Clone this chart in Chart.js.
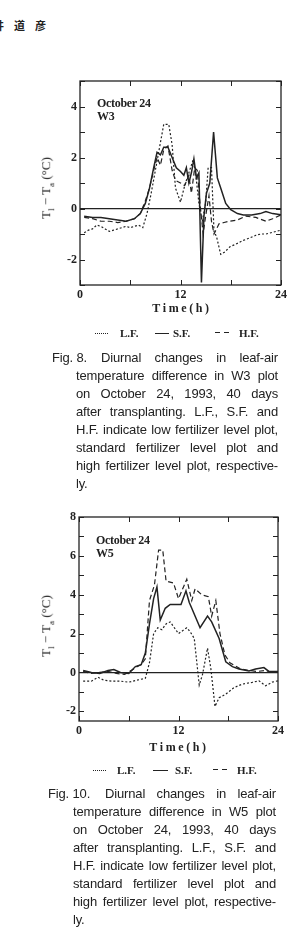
<!DOCTYPE html>
<html>
<head>
<meta charset="utf-8">
<script src="https://cdn.jsdelivr.net/npm/chart.js@4/dist/chart.umd.min.js"></script>
<style>
body{margin:0;background:#fff;width:299px;height:947px;position:relative;overflow:hidden;color:#222}
canvas{position:absolute}
.abs{position:absolute;white-space:nowrap}
.ser{font-family:"Liberation Serif","Times New Roman",serif}
.note{font-size:12px;line-height:13px;letter-spacing:-0.3px;font-weight:600}
.ytitle{font-size:13px;transform:translate(-50%,-50%) rotate(-90deg)}
.ytitle sub{font-size:9px}
.xtitle{font-size:12px;font-weight:bold;letter-spacing:2.6px;transform:translate(-50%,-50%)}
.leg{font-size:11px;font-weight:bold;transform:translateY(-50%)}
.smp{position:absolute;height:0}
.cap{font-family:"Liberation Sans",Arial,sans-serif;font-size:13px;line-height:18px;letter-spacing:-0.15px}
.cap div{position:absolute;text-align:justify;text-align-last:justify;height:18px}
.cap div.last{text-align-last:left}
.cap div.fig{text-align-last:left;white-space:nowrap}
.head{font-family:"Noto Sans CJK JP",sans-serif;font-weight:bold;font-size:11px;letter-spacing:10px;left:-7px;top:17px}
</style>
</head>
<body>
<div class="abs head">井道彦</div>

<canvas id="w3" width="250" height="250" style="left:40px;top:70px"></canvas>
<div class="abs ser note" style="left:97px;top:97px">October 24<br>W3</div>
<div class="abs ser ytitle" style="left:47px;top:188px">T<sub>l</sub> − T<sub>a</sub> (°C)</div>
<div class="abs ser xtitle" style="left:182px;top:308px">Time(h)</div>
<div class="smp" style="left:95px;top:333px;width:13px;border-top:1.4px dotted #222"></div>
<div class="abs ser leg" style="left:120px;top:333px">L.F.</div>
<div class="smp" style="left:155px;top:333px;width:14px;border-top:1.3px solid #222"></div>
<div class="abs ser leg" style="left:173px;top:333px">S.F.</div>
<div class="smp" style="left:215px;top:332px;width:15px;height:1.3px;background:repeating-linear-gradient(90deg,#222 0 5px,transparent 5px 9px)"></div>
<div class="abs ser leg" style="left:239px;top:333px">H.F.</div>

<div class="cap">
<div class="fig" style="left:52px;top:349px">Fig. 8.</div>
<div style="left:101px;top:349px;width:177px">Diurnal changes in leaf-air</div>
<div style="left:76px;top:367px;width:202px">temperature difference in W3 plot</div>
<div style="left:76px;top:385px;width:202px">on October 24, 1993, 40 days</div>
<div style="left:76px;top:403px;width:202px">after transplanting. L.F., S.F. and</div>
<div style="left:76px;top:421px;width:202px">H.F. indicate low fertilizer level plot,</div>
<div style="left:76px;top:439px;width:202px">standard fertilizer level plot and</div>
<div style="left:76px;top:457px;width:202px">high fertilizer level plot, respective-</div>
<div class="last" style="left:76px;top:475px;width:202px">ly.</div>
</div>

<canvas id="w5" width="250" height="250" style="left:39px;top:506px"></canvas>
<div class="abs ser note" style="left:96px;top:534px">October 24<br>W5</div>
<div class="abs ser ytitle" style="left:47px;top:626px">T<sub>l</sub> − T<sub>a</sub> (°C)</div>
<div class="abs ser xtitle" style="left:179px;top:747px">Time(h)</div>
<div class="smp" style="left:93px;top:770px;width:13px;border-top:1.4px dotted #222"></div>
<div class="abs ser leg" style="left:117px;top:770px">L.F.</div>
<div class="smp" style="left:153px;top:770px;width:15px;border-top:1.3px solid #222"></div>
<div class="abs ser leg" style="left:175px;top:770px">S.F.</div>
<div class="smp" style="left:213px;top:769px;width:17px;height:1.3px;background:repeating-linear-gradient(90deg,#222 0 5px,transparent 5px 9px)"></div>
<div class="abs ser leg" style="left:237px;top:770px">H.F.</div>

<div class="cap">
<div class="fig" style="left:48px;top:785px">Fig. 10.</div>
<div style="left:105px;top:785px;width:171px">Diurnal changes in leaf-air</div>
<div style="left:73px;top:803px;width:203px">temperature difference in W5 plot</div>
<div style="left:73px;top:821px;width:203px">on October 24, 1993, 40 days</div>
<div style="left:73px;top:839px;width:203px">after transplanting. L.F., S.F. and</div>
<div style="left:73px;top:857px;width:203px">H.F. indicate low fertilizer level plot,</div>
<div style="left:73px;top:875px;width:203px">standard fertilizer level plot and</div>
<div style="left:73px;top:893px;width:203px">high fertilizer level plot, respective-</div>
<div class="last" style="left:73px;top:911px;width:203px">ly.</div>
</div>

<script>
// axis ticks
const xTicks = [0, 6, 12, 18, 24];
const xLabels = [0, 12, 24];
const yTicksW3 = [-3, -2, -1, 0, 1, 2, 3, 4, 5];
const yLabelsW3 = [-2, 0, 2, 4];
const yTicksW5 = [-2, -1, 0, 1, 2, 3, 4, 5, 6, 7, 8];
const yLabelsW5 = [-2, 0, 2, 4, 6, 8];

// Fig. 8, W3 plot (time in h, Tl - Ta in degC)
const tW3LF = [0.5,1.0,1.5,2.0,2.5,3.0,3.5,4.0,4.5,5.0,5.5,6.0,6.5,7.0,7.5,8.0,8.5,9.0,9.5,10.0,10.6,11.0,11.4,12.0,12.5,13.0,13.5,13.8,14.2,14.6,15.0,15.3,15.7,16.0,16.3,16.8,17.3,17.9,18.6,19.5,20.3,21.0,21.6,22.2,22.8,23.4,24.0];
const w3LF = [-0.95,-0.85,-0.8,-0.65,-0.7,-0.8,-0.9,-0.85,-0.8,-0.75,-0.7,-0.75,-0.7,-0.65,-0.75,-0.2,0.6,1.5,2.4,3.3,3.3,2.5,0.8,0.25,0.9,1.4,1.9,1.4,0.2,-0.5,0.2,1.6,1.6,-0.9,-1.1,-1.8,-1.7,-1.5,-1.4,-1.25,-1.15,-1.05,-1.0,-1.0,-0.95,-0.9,-0.85];
const tW3SF = [0.5,1.5,2.5,3.5,4.5,5.5,6.5,7.2,7.8,8.3,8.8,9.2,9.6,10.0,10.5,11.0,11.5,12.0,12.4,12.7,13.0,13.3,13.6,13.9,14.2,14.5,14.8,15.1,15.5,15.95,16.4,16.8,17.4,18.0,18.8,19.5,20.5,21.5,22.2,23.0,24.0];
const w3SF = [-0.3,-0.35,-0.35,-0.4,-0.45,-0.5,-0.4,-0.2,0.2,0.8,1.6,2.2,2.1,2.4,2.4,2.0,1.6,1.45,1.3,1.6,1.0,1.4,1.95,1.2,1.4,-2.9,-0.3,0.6,1.0,3.0,1.2,0.8,0.2,-0.05,-0.2,-0.25,-0.25,-0.2,-0.12,-0.2,-0.25];
const tW3HF = [0.5,1.5,2.5,3.5,4.5,5.5,6.5,7.2,7.8,8.3,8.8,9.2,9.6,10.0,10.5,11.0,11.4,12.0,12.5,13.0,13.3,13.7,14.0,14.3,14.7,15.0,15.4,15.7,16.0,16.6,17.2,17.8,18.8,19.8,21.0,22.2,23.0,24.0];
const w3HF = [-0.35,-0.4,-0.5,-0.5,-0.55,-0.5,-0.4,-0.2,0.3,0.8,1.5,2.0,1.7,2.3,2.45,1.5,1.1,1.0,0.9,1.3,0.6,1.6,1.5,0.3,-1.0,-0.3,0.5,-0.5,-1.0,-0.6,-0.55,-0.5,-0.45,-0.3,-0.35,-0.5,-0.4,-0.25];

// Fig. 10, W5 plot
const tW5LF = [0.5,1.5,2.3,3.0,4.0,5.0,6.0,7.0,8.0,8.5,9.0,9.5,10.0,10.5,11.0,12.0,13.0,13.4,13.9,14.5,14.9,15.5,15.9,16.4,16.9,17.7,18.7,19.7,20.9,21.7,22.5,23.3,24.0];
const w5LF = [-0.45,-0.45,-0.25,-0.4,-0.45,-0.45,-0.5,-0.4,-0.3,0.5,2.0,2.3,2.2,2.5,2.6,2.0,2.3,2.1,1.75,-0.65,-0.1,1.25,0.2,-1.75,-1.3,-1.12,-0.78,-0.6,-0.51,-0.43,-0.69,-0.5,-0.43];
const tW5SF = [0.5,1.5,2.5,3.5,4.2,5.0,6.0,6.8,7.5,8.0,8.5,9.0,9.4,9.8,10.4,11.0,11.7,12.3,12.9,13.3,13.6,14.1,14.6,15.5,16.0,16.9,17.7,18.5,19.3,20.5,21.3,22.3,22.9,24.0];
const w5SF = [0.1,0.0,-0.05,0.1,0.15,0.0,-0.05,0.3,0.4,1.0,2.5,3.8,4.4,2.7,3.3,3.5,3.5,3.5,4.2,3.6,3.3,2.8,2.3,2.9,2.6,1.75,0.55,0.3,0.18,0.08,0.18,0.25,0.05,0.05];
const tW5HF = [0.5,1.5,2.5,3.5,4.5,5.5,6.5,7.0,7.5,8.0,8.5,9.1,9.6,10.1,10.5,11.4,12.0,12.6,13.0,13.6,14.0,14.8,15.6,16.0,16.5,17.0,17.6,18.2,19.4,20.5,21.5,22.5,23.3,24.0];
const w5HF = [0.05,-0.05,0.0,0.05,-0.05,-0.1,0.15,0.3,0.4,0.7,3.7,4.5,6.3,6.3,4.7,4.6,3.8,4.4,4.8,3.7,4.3,4.0,3.9,2.9,3.7,2.0,0.9,0.5,0.2,0.1,0.05,0.1,0.0,0.0];

const ink = "#222";

function pts(t, v) {
  return t.map((x, i) => ({ x: x, y: v[i] }));
}

// frame + inward tick marks on all four sides
const frameTicks = {
  id: "frameTicks",
  afterDatasetsDraw(chart, args, opts) {
    const ctx = chart.ctx, a = chart.chartArea;
    const x = chart.scales.x, y = chart.scales.y;
    ctx.save();
    ctx.strokeStyle = ink;
    ctx.lineWidth = 1;
    ctx.beginPath();
    opts.xTicks.forEach((v) => {
      const px = Math.round(x.getPixelForValue(v)) + 0.5;
      ctx.moveTo(px, a.bottom); ctx.lineTo(px, a.bottom - 5);
      ctx.moveTo(px, a.top); ctx.lineTo(px, a.top + 5);
    });
    opts.yTicks.forEach((v) => {
      const py = Math.round(y.getPixelForValue(v)) + 0.5;
      ctx.moveTo(a.left, py); ctx.lineTo(a.left + 5, py);
      ctx.moveTo(a.right, py); ctx.lineTo(a.right - 5, py);
    });
    ctx.stroke();
    ctx.lineWidth = 1.3;
    ctx.strokeRect(a.left, a.top, a.width, a.height);
    ctx.restore();
  },
};

function makeChart(id, series, yMin, yMax, yTicks, yLabels, padRight) {
  const datasets = series.map((s) => ({
    data: pts(s[0], s[1]),
    borderColor: ink,
    borderWidth: s[2],
    borderDash: s[3],
    pointRadius: 0,
    tension: 0,
    fill: false,
  }));
  return new Chart(document.getElementById(id), {
    type: "line",
    data: { datasets: datasets },
    options: {
      responsive: false,
      animation: false,
      devicePixelRatio: 1,
      layout: { padding: { left: 0, right: padRight, top: 11, bottom: 0 } },
      plugins: {
        legend: { display: false },
        tooltip: { enabled: false },
        frameTicks: { xTicks: xTicks, yTicks: yTicks },
      },
      scales: {
        x: {
          type: "linear",
          min: 0,
          max: 24,
          afterBuildTicks: (sc) => { sc.ticks = xTicks.map((v) => ({ value: v })); },
          afterFit: (sc) => { sc.height = 35; },
          border: { display: false },
          grid: { display: false, drawTicks: false },
          ticks: {
            padding: 3,
            color: ink,
            maxRotation: 0,
            autoSkip: false,
            font: { family: "Liberation Serif", size: 12, weight: "bold" },
            callback: (v) => (xLabels.includes(v) ? String(v) : ""),
          },
        },
        y: {
          min: yMin,
          max: yMax,
          afterBuildTicks: (sc) => { sc.ticks = yTicks.map((v) => ({ value: v })); },
          afterFit: (sc) => { sc.width = 40; },
          border: { display: false },
          grid: {
            drawTicks: false,
            lineWidth: 1.3,
            color: (c) => (c.tick && c.tick.value === 0 ? ink : "rgba(0,0,0,0)"),
          },
          ticks: {
            padding: 3,
            color: ink,
            autoSkip: false,
            font: { family: "Liberation Serif", size: 12, weight: "bold" },
            callback: (v) => (yLabels.includes(v) ? String(v) : ""),
          },
        },
      },
    },
    plugins: [frameTicks],
  });
}

makeChart("w3", [
  [tW3LF, w3LF, 1.2, [2, 2]],
  [tW3SF, w3SF, 1.5, []],
  [tW3HF, w3HF, 1.2, [5, 3]],
], -3, 5, yTicksW3, yLabelsW3, 9);

makeChart("w5", [
  [tW5LF, w5LF, 1.2, [2, 2]],
  [tW5SF, w5SF, 1.5, []],
  [tW5HF, w5HF, 1.2, [5, 3]],
], -2.5, 8, yTicksW5, yLabelsW5, 11);
</script>
</body>
</html>
